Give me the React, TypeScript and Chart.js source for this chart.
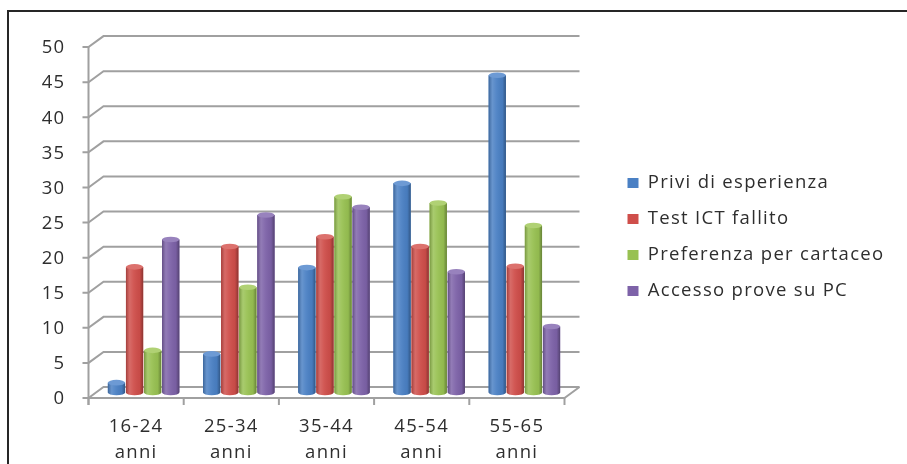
import React, { useEffect, useRef } from 'react';
import { Chart, registerables } from 'chart.js';

Chart.register(...registerables);

const categories = [
  ['16-24', 'anni'],
  ['25-34', 'anni'],
  ['35-44', 'anni'],
  ['45-54', 'anni'],
  ['55-65', 'anni'],
];
const seriesNames = ['Privi di esperienza', 'Test ICT fallito', 'Preferenza per cartaceo', 'Accesso prove su PC'];
const privi = [1.4, 5.5, 17.8, 29.8, 45.2];
const testIct = [17.9, 20.8, 22.2, 20.8, 18];
const preferenza = [6, 15, 27.9, 27, 23.8];
const accesso = [21.8, 25.3, 26.4, 17.2, 9.4];
const yTicks = [0, 5, 10, 15, 20, 25, 30, 35, 40, 45, 50];
const colors = ['#4a80c4', '#cf4e4a', '#98c152', '#7d62a8'];
const capColors = ['#6d9ad4', '#dc716d', '#b0d174', '#9882bd'];

const DX = 7.5;
const DY = 5.5;
const FONT = "'Open Sans', 'Noto Sans', sans-serif";
const FS = 18.5;
const SPACING = '1.3px';

const spacingPlugin = {
  id: 'spacing',
  beforeLayout(chart: any) {
    chart.ctx.letterSpacing = SPACING;
  },
  beforeDraw(chart: any) {
    chart.ctx.letterSpacing = SPACING;
  },
};

// Give the right-hand legend the full width up to the canvas edge
const legendPlacePlugin = {
  id: 'legendPlace',
  afterLayout(chart: any) {
    const lg = chart.legend;
    if (!lg) return;
    lg.left = 610;
    lg.right = chart.width;
    lg.width = lg.right - lg.left;
    lg.top = 37;
    lg.bottom = 437;
    lg.height = lg.bottom - lg.top;
  },
};

const wallPlugin = {
  id: 'wall',
  beforeDatasetsDraw(chart: any) {
    const { ctx, chartArea: ca } = chart;
    const y = chart.scales.y;
    const x = chart.scales.x;
    ctx.save();
    ctx.strokeStyle = '#a0a0a0';
    ctx.lineWidth = 2;
    ctx.lineJoin = 'miter';
    yTicks.forEach((v) => {
      const yp = y.getPixelForValue(v);
      ctx.beginPath();
      ctx.moveTo(ca.left - DX - 6, yp + DY);
      ctx.lineTo(ca.left - DX, yp + DY);
      ctx.lineTo(ca.left + DX, yp - DY);
      ctx.lineTo(ca.right + DX, yp - DY);
      ctx.stroke();
    });
    const y0 = y.getPixelForValue(0);
    const yTop = y.getPixelForValue(50);
    ctx.beginPath();
    ctx.moveTo(ca.left - DX, yTop + DY);
    ctx.lineTo(ca.left - DX, y0 + DY + 7);
    ctx.stroke();
    ctx.beginPath();
    ctx.moveTo(ca.left - DX, y0 + DY);
    ctx.lineTo(ca.right - DX, y0 + DY);
    ctx.lineTo(ca.right + DX, y0 - DY);
    ctx.stroke();
    for (let i = 0; i <= categories.length; i++) {
      const bx = x.getPixelForValue(i - 0.5) - DX;
      ctx.beginPath();
      ctx.moveTo(bx, y0 + DY);
      ctx.lineTo(bx, y0 + DY + 7);
      ctx.stroke();
    }
    ctx.restore();
  },
};

const cylinderPlugin = {
  id: 'cylinder',
  afterDatasetsDraw(chart: any) {
    const ctx = chart.ctx;
    chart.data.datasets.forEach((_ds: any, di: number) => {
      const meta = chart.getDatasetMeta(di);
      meta.data.forEach((bar: any) => {
        const { x, y, base, width } = bar.getProps(['x', 'y', 'base', 'width'], true);
        const rx = width / 2;
        const ry = 2.8;
        const l = x - rx;
        const r = x + rx;
        const body = () => {
          ctx.beginPath();
          ctx.moveTo(l, y);
          ctx.lineTo(l, base);
          ctx.ellipse(x, base, rx, ry, 0, Math.PI, 0, true);
          ctx.lineTo(r, y);
          ctx.closePath();
        };
        ctx.save();
        body();
        ctx.fillStyle = colors[di];
        ctx.fill();
        const g = ctx.createLinearGradient(l, 0, r, 0);
        g.addColorStop(0, 'rgba(0,0,0,0.22)');
        g.addColorStop(0.22, 'rgba(255,255,255,0.16)');
        g.addColorStop(0.45, 'rgba(255,255,255,0.06)');
        g.addColorStop(0.8, 'rgba(0,0,0,0.04)');
        g.addColorStop(1, 'rgba(0,0,0,0.32)');
        body();
        ctx.fillStyle = g;
        ctx.fill();
        ctx.beginPath();
        ctx.ellipse(x, y, rx, ry, 0, 0, Math.PI * 2);
        ctx.fillStyle = capColors[di];
        ctx.fill();
        ctx.restore();
      });
    });
  },
};

export default function App() {
  const ref = useRef<HTMLCanvasElement | null>(null);

  useEffect(() => {
    if (!ref.current) return;
    Chart.defaults.font.family = FONT;
    Chart.defaults.font.size = FS;
    Chart.defaults.color = '#2e2e2e';
    const values = [privi, testIct, preferenza, accesso];
    const chart = new Chart(ref.current, {
      type: 'bar',
      data: {
        labels: categories,
        datasets: seriesNames.map((name, i) => ({
          label: name,
          data: values[i],
          backgroundColor: colors[i],
          borderWidth: 0,
          categoryPercentage: 0.76,
          barPercentage: 0.95,
        })),
      },
      options: {
        animation: false,
        responsive: true,
        maintainAspectRatio: false,
        layout: { padding: { left: 0, right: 175, top: 37, bottom: 0 } },
        plugins: {
          legend: {
            position: 'right',
            labels: {
              boxWidth: 11,
              boxHeight: 10,
              padding: 17.5,
              color: '#2e2e2e',
              font: { size: FS, family: FONT },
            },
          },
          tooltip: { enabled: false },
        },
        scales: {
          x: {
            grid: { display: false, drawTicks: false },
            border: { display: false },
            ticks: {
              padding: 21,
              labelOffset: -DX,
              color: '#2e2e2e',
              font: { size: FS, family: FONT, lineHeight: 1.42 },
              maxRotation: 0,
            },
            afterFit: (s: any) => {
              s.height = 71.5;
            },
          },
          y: {
            min: 0,
            max: 50,
            grid: { display: false, drawTicks: false },
            border: { display: false },
            ticks: {
              stepSize: 5,
              padding: 30.5,
              labelOffset: 6.5,
              color: '#2e2e2e',
              font: { size: FS, family: FONT },
            },
            afterFit: (s: any) => {
              s.width = 96;
            },
          },
          y2: {
            position: 'right',
            display: true,
            grid: { display: false, drawTicks: false },
            border: { display: false },
            ticks: { display: false },
            afterFit: (s: any) => {
              s.width = 38;
            },
          },
        },
      } as any,
      plugins: [spacingPlugin, legendPlacePlugin, wallPlugin, cylinderPlugin],
    });
    return () => chart.destroy();
  }, []);

  return (
    <div
      style={{
        position: 'fixed',
        left: 0,
        top: 0,
        width: 907,
        height: 464,
        overflow: 'hidden',
        background: '#ffffff',
      }}
    >
      <div style={{ position: 'absolute', left: 0, top: 0, width: 907, height: 464 }}>
        <canvas ref={ref} />
      </div>
      <div
        style={{
          position: 'absolute',
          left: 7,
          top: 10,
          width: 1000,
          height: 1000,
          border: '2px solid #262626',
          pointerEvents: 'none',
        }}
      />
    </div>
  );
}
